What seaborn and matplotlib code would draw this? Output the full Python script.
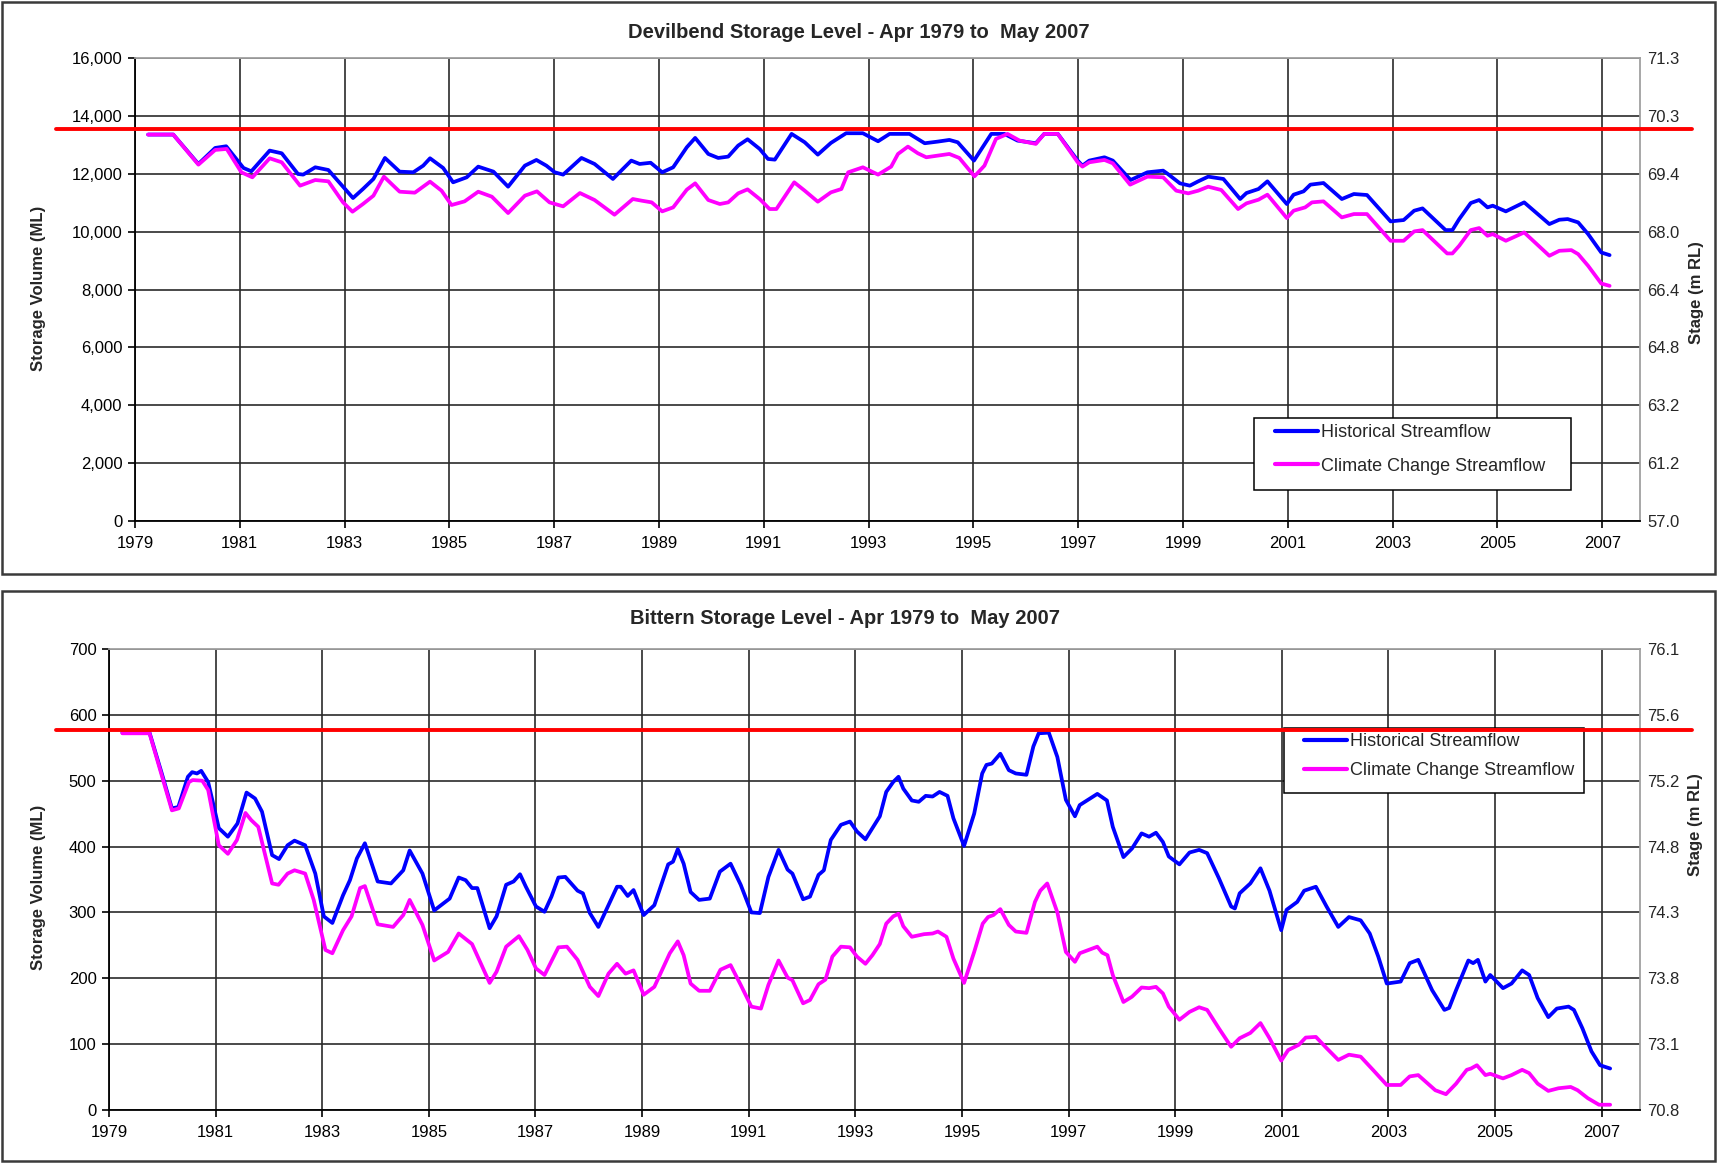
import numpy as np
import pandas as pd
import matplotlib.pyplot as plt
from matplotlib.patches import Rectangle
import seaborn as sns

# ---------------- data ----------------
# Devilbend - historical streamflow (decimal year, ML)
dev_hist_yr = [1979.25, 1979.73, 1980.21, 1980.53, 1980.74, 1981.07, 1981.22, 1981.57, 1981.80, 1982.11,
               1982.21, 1982.44, 1982.69, 1983.16, 1983.35, 1983.55, 1983.77, 1984.05, 1984.31, 1984.50,
               1984.63, 1984.88, 1985.07, 1985.33, 1985.55, 1985.84, 1986.12, 1986.44, 1986.66, 1986.85,
               1987.01, 1987.17, 1987.52, 1987.77, 1988.12, 1988.47, 1988.63, 1988.84, 1989.06, 1989.27,
               1989.53, 1989.69, 1989.94, 1990.13, 1990.32, 1990.51, 1990.69, 1990.92, 1991.08, 1991.21,
               1991.53, 1991.78, 1992.03, 1992.28, 1992.57, 1992.89, 1993.18, 1993.40, 1993.78, 1994.07,
               1994.32, 1994.54, 1994.70, 1995.01, 1995.34, 1995.59, 1995.84, 1996.19, 1996.35, 1996.61,
               1996.99, 1997.08, 1997.21, 1997.50, 1997.66, 1998.00, 1998.32, 1998.62, 1998.71, 1998.94,
               1999.13, 1999.29, 1999.48, 1999.77, 2000.09, 2000.21, 2000.44, 2000.61, 2000.98, 2001.11,
               2001.30, 2001.43, 2001.68, 2002.03, 2002.26, 2002.51, 2002.96, 2003.21, 2003.41, 2003.57,
               2004.01, 2004.14, 2004.27, 2004.49, 2004.65, 2004.81, 2004.91, 2005.16, 2005.51, 2005.99,
               2006.18, 2006.34, 2006.54, 2006.73, 2006.98, 2007.14]
dev_hist_ml = [13354, 13354, 12338, 12892, 12950, 12200, 12085, 12800, 12707, 11992,
               11970, 12223, 12130, 11161, 11473, 11820, 12546, 12073, 12050, 12280,
               12534, 12200, 11704, 11877, 12246, 12073, 11553, 12280, 12477, 12280,
               12050, 11970, 12546, 12338, 11820, 12454, 12338, 12380, 12050, 12223,
               12915, 13238, 12684, 12546, 12592, 12973, 13192, 12858, 12511, 12488,
               13377, 13088, 12661, 13065, 13400, 13400, 13123, 13377, 13377, 13054,
               13111, 13169, 13088, 12454, 13377, 13377, 13146, 13054, 13377, 13377,
               12454, 12280, 12454, 12569, 12454, 11784, 12050, 12107, 11992, 11669,
               11588, 11738, 11900, 11820, 11127, 11334, 11473, 11738, 10954, 11277,
               11392, 11623, 11680, 11127, 11300, 11265, 10354, 10400, 10723, 10803,
               10053, 10053, 10434, 10988, 11092, 10838, 10896, 10700, 11011, 10261,
               10411, 10434, 10319, 9915, 9280, 9188]

# Devilbend - climate change streamflow
dev_cc_yr = [1979.25, 1979.73, 1980.21, 1980.53, 1980.75, 1981.03, 1981.24, 1981.57, 1981.80, 1982.15,
             1982.44, 1982.69, 1982.97, 1983.15, 1983.35, 1983.55, 1983.75, 1984.05, 1984.34, 1984.63,
             1984.85, 1985.04, 1985.29, 1985.55, 1985.81, 1986.12, 1986.44, 1986.67, 1986.91, 1987.17,
             1987.49, 1987.77, 1988.15, 1988.50, 1988.67, 1988.86, 1989.06, 1989.27, 1989.53, 1989.69,
             1989.94, 1990.16, 1990.32, 1990.51, 1990.69, 1990.92, 1991.11, 1991.24, 1991.58, 1991.78,
             1992.03, 1992.28, 1992.48, 1992.61, 1992.89, 1993.18, 1993.43, 1993.56, 1993.75, 1993.94,
             1994.10, 1994.32, 1994.54, 1994.73, 1995.02, 1995.21, 1995.43, 1995.65, 1995.88, 1996.19,
             1996.35, 1996.61, 1996.99, 1997.08, 1997.21, 1997.50, 1997.66, 1997.99, 1998.32, 1998.62,
             1998.87, 1999.10, 1999.29, 1999.48, 1999.73, 2000.05, 2000.21, 2000.44, 2000.61, 2000.98,
             2001.11, 2001.33, 2001.46, 2001.68, 2002.03, 2002.26, 2002.51, 2002.96, 2003.21, 2003.41,
             2003.57, 2004.04, 2004.14, 2004.27, 2004.49, 2004.65, 2004.81, 2004.91, 2005.16, 2005.51,
             2005.99, 2006.18, 2006.41, 2006.54, 2006.73, 2006.98, 2007.14]
dev_cc_ml = [13354, 13354, 12315, 12823, 12858, 12050, 11877, 12534, 12396, 11588,
             11784, 11738, 11011, 10688, 10954, 11242, 11900, 11380, 11346, 11727,
             11415, 10919, 11046, 11380, 11207, 10642, 11242, 11392, 11011, 10873,
             11334, 11092, 10584, 11127, 11069, 11011, 10700, 10838, 11450, 11669,
             11092, 10954, 11011, 11323, 11461, 11127, 10781, 10781, 11704, 11415,
             11034, 11357, 11473, 12050, 12223, 11970, 12246, 12684, 12938, 12707,
             12569, 12627, 12684, 12546, 11911, 12280, 13204, 13377, 13146, 13031,
             13377, 13377, 12396, 12246, 12396, 12477, 12361, 11623, 11900, 11877,
             11415, 11323, 11415, 11553, 11438, 10781, 10977, 11104, 11277, 10469,
             10723, 10838, 11011, 11046, 10492, 10607, 10607, 9684, 9684, 10007,
             10053, 9246, 9246, 9511, 10053, 10123, 9857, 9915, 9684, 9972,
             9165, 9338, 9361, 9223, 8818, 8207, 8126]

# Bittern - historical streamflow
bit_hist_yr = [1979.25, 1979.76, 1979.99, 1980.18, 1980.30, 1980.48, 1980.56, 1980.65, 1980.73, 1980.86,
               1981.06, 1981.23, 1981.41, 1981.58, 1981.74, 1981.87, 1982.06, 1982.19, 1982.35, 1982.48,
               1982.68, 1982.87, 1983.03, 1983.19, 1983.39, 1983.52, 1983.65, 1983.80, 1984.04, 1984.29,
               1984.52, 1984.64, 1984.88, 1985.10, 1985.23, 1985.39, 1985.56, 1985.69, 1985.81, 1985.91,
               1986.14, 1986.27, 1986.45, 1986.59, 1986.71, 1986.82, 1987.01, 1987.17, 1987.30, 1987.43,
               1987.56, 1987.79, 1987.89, 1988.02, 1988.18, 1988.37, 1988.53, 1988.60, 1988.73, 1988.84,
               1989.03, 1989.23, 1989.36, 1989.49, 1989.58, 1989.67, 1989.78, 1989.91, 1990.07, 1990.27,
               1990.46, 1990.66, 1990.85, 1991.05, 1991.21, 1991.37, 1991.56, 1991.73, 1991.82, 1992.02,
               1992.15, 1992.31, 1992.41, 1992.54, 1992.73, 1992.90, 1993.03, 1993.19, 1993.32, 1993.46,
               1993.58, 1993.71, 1993.81, 1993.90, 1994.06, 1994.19, 1994.32, 1994.45, 1994.58, 1994.73,
               1994.84, 1995.04, 1995.23, 1995.38, 1995.46, 1995.56, 1995.72, 1995.88, 1996.01, 1996.21,
               1996.34, 1996.44, 1996.63, 1996.79, 1996.95, 1997.12, 1997.21, 1997.54, 1997.72, 1997.83,
               1998.03, 1998.19, 1998.37, 1998.51, 1998.64, 1998.77, 1998.88, 1999.08, 1999.27, 1999.45,
               1999.60, 1999.82, 2000.05, 2000.12, 2000.21, 2000.41, 2000.60, 2000.77, 2000.99, 2001.09,
               2001.29, 2001.42, 2001.64, 2001.84, 2002.06, 2002.26, 2002.48, 2002.65, 2002.81, 2002.97,
               2003.23, 2003.40, 2003.56, 2003.82, 2004.05, 2004.14, 2004.27, 2004.50, 2004.59, 2004.68,
               2004.82, 2004.91, 2005.15, 2005.31, 2005.51, 2005.64, 2005.80, 2006.00, 2006.16, 2006.38,
               2006.48, 2006.64, 2006.81, 2006.97, 2007.16]
bit_hist_ml = [573, 573, 511, 458, 460, 506, 513, 511, 515, 498,
               428, 415, 435, 482, 473, 453, 387, 381, 402, 409,
               402, 359, 294, 284, 326, 349, 382, 405, 347, 344,
               364, 394, 359, 303, 311, 321, 353, 349, 337, 337,
               276, 294, 342, 347, 358, 339, 309, 301, 324, 353,
               354, 333, 329, 299, 278, 311, 339, 339, 325, 334,
               296, 311, 342, 373, 377, 396, 374, 331, 319, 321,
               362, 374, 342, 300, 299, 354, 395, 365, 359, 320,
               324, 357, 364, 410, 433, 438, 423, 411, 428, 446,
               483, 498, 506, 488, 470, 468, 477, 476, 483, 477,
               443, 401, 450, 511, 524, 526, 541, 516, 511, 509,
               552, 572, 573, 536, 471, 446, 463, 480, 470, 430,
               384, 397, 420, 415, 421, 407, 385, 373, 391, 395,
               390, 352, 309, 306, 329, 344, 367, 333, 273, 304,
               316, 333, 339, 309, 278, 293, 288, 268, 233, 192,
               195, 223, 228, 182, 152, 155, 182, 227, 223, 228,
               195, 205, 185, 192, 212, 205, 170, 141, 154, 157,
               152, 124, 89, 68, 63]

# Bittern - climate change streamflow
bit_cc_yr = [1979.25, 1979.76, 1979.99, 1980.18, 1980.31, 1980.50, 1980.57, 1980.75, 1980.86, 1981.06,
             1981.23, 1981.40, 1981.56, 1981.67, 1981.80, 1982.06, 1982.18, 1982.35, 1982.48, 1982.68,
             1982.84, 1983.06, 1983.19, 1983.39, 1983.55, 1983.71, 1983.80, 1984.04, 1984.33, 1984.52,
             1984.64, 1984.88, 1985.10, 1985.36, 1985.56, 1985.81, 1986.14, 1986.27, 1986.45, 1986.69,
             1986.85, 1987.01, 1987.17, 1987.43, 1987.59, 1987.79, 1988.02, 1988.18, 1988.37, 1988.53,
             1988.69, 1988.84, 1989.03, 1989.23, 1989.39, 1989.52, 1989.67, 1989.78, 1989.91, 1990.07,
             1990.27, 1990.47, 1990.66, 1990.85, 1991.05, 1991.23, 1991.37, 1991.56, 1991.73, 1991.82,
             1992.02, 1992.15, 1992.31, 1992.44, 1992.57, 1992.73, 1992.90, 1993.03, 1993.19, 1993.32,
             1993.46, 1993.58, 1993.71, 1993.81, 1993.90, 1994.06, 1994.29, 1994.45, 1994.55, 1994.71,
             1994.84, 1995.04, 1995.23, 1995.39, 1995.49, 1995.59, 1995.72, 1995.88, 1996.01, 1996.21,
             1996.37, 1996.47, 1996.60, 1996.79, 1996.95, 1997.12, 1997.21, 1997.54, 1997.63, 1997.73,
             1997.83, 1998.03, 1998.19, 1998.37, 1998.51, 1998.64, 1998.77, 1998.88, 1999.08, 1999.27,
             1999.45, 1999.60, 1999.82, 2000.05, 2000.21, 2000.41, 2000.60, 2000.77, 2000.99, 2001.12,
             2001.32, 2001.45, 2001.64, 2001.84, 2002.06, 2002.26, 2002.48, 2002.71, 2002.97, 2003.23,
             2003.40, 2003.56, 2003.88, 2004.08, 2004.27, 2004.47, 2004.55, 2004.66, 2004.82, 2004.91,
             2005.15, 2005.31, 2005.51, 2005.64, 2005.80, 2006.00, 2006.19, 2006.42, 2006.55, 2006.74,
             2006.95, 2007.16]
bit_cc_ml = [572, 572, 508, 455, 458, 498, 501, 500, 486, 402,
             389, 410, 451, 440, 430, 344, 342, 359, 364, 359,
             319, 243, 238, 273, 294, 337, 340, 282, 278, 296,
             319, 281, 227, 240, 268, 252, 193, 210, 248, 264,
             243, 215, 205, 247, 248, 228, 187, 173, 207, 222,
             207, 212, 175, 187, 215, 238, 256, 235, 192, 181,
             181, 213, 220, 190, 157, 154, 190, 227, 201, 197,
             162, 167, 191, 198, 233, 248, 247, 233, 222, 235,
             252, 283, 294, 298, 279, 263, 267, 268, 271, 263,
             230, 193, 240, 283, 293, 296, 305, 281, 271, 269,
             316, 333, 344, 300, 240, 225, 238, 248, 239, 235,
             205, 164, 172, 186, 185, 187, 177, 157, 137, 149,
             156, 152, 124, 96, 109, 117, 132, 109, 75, 91,
             99, 110, 111, 94, 76, 84, 81, 61, 38, 38,
             51, 53, 30, 24, 40, 61, 63, 68, 53, 55,
             48, 53, 61, 56, 40, 29, 33, 35, 30, 18,
             8, 8]

# full supply levels (red lines)
dev_fsl = 13560
bit_fsl = 577

# axis ticks and right-hand stage labels
year_ticks = list(range(1979, 2008, 2))
dev_ticks = list(range(0, 16001, 2000))
dev_stage = ["57.0", "61.2", "63.2", "64.8", "66.4", "68.0", "69.4", "70.3", "71.3"]
bit_ticks = list(range(0, 701, 100))
bit_stage = ["70.8", "73.1", "73.8", "74.3", "74.8", "75.2", "75.6", "76.1"]

series_names = ["Historical Streamflow", "Climate Change Streamflow"]
series_colors = ["#0000ff", "#ff00ff"]

# ---------------- plotting ----------------
sns.set_style("white")
plt.rcParams["font.family"] = ["Liberation Sans", "DejaVu Sans"]

W, H = 1717, 1164
fig = plt.figure(figsize=(W / 100, H / 100), dpi=100)


def fx(px):
    return px / W


def fy(py):
    return 1 - py / H


def draw_panel(rect, box, yrs, vals, fsl, yticks, stage, title, title_xy,
               ylab_xy, rlab_xy, leg_box, leg_anchor, leg_spacing):
    # outer frame of the panel
    fig.patches.append(Rectangle((fx(box[0]), fy(box[3])), fx(box[2] - box[0]), (box[3] - box[1]) / H,
                                 transform=fig.transFigure, fill=False, edgecolor="#3a3a3a", lw=1.8))

    ax = fig.add_axes([fx(rect[0]), fy(rect[3]), fx(rect[2] - rect[0]), (rect[3] - rect[1]) / H])
    for (yr, v), name, col in zip(zip(yrs, vals), series_names, series_colors):
        df = pd.DataFrame({"year": yr, "ml": v})
        sns.lineplot(data=df, x="year", y="ml", ax=ax, color=col, linewidth=2.7,
                     estimator=None, label=name, zorder=3,
                     solid_joinstyle="round", solid_capstyle="round")

    ax.set_xlim(1979, 2007.72)
    ax.set_ylim(yticks[0], yticks[-1])
    ax.set_xticks(year_ticks)
    ax.set_yticks(yticks)
    ax.yaxis.set_major_formatter(plt.FuncFormatter(lambda v, p: f"{int(v):,}"))
    ax.grid(True, color="#2a2a2a", lw=1.2)
    ax.set_xlabel("")
    ax.set_ylabel("")
    ax.tick_params(axis="both", labelsize=12, colors="black", direction="out",
                   length=5, width=1.2, pad=4)
    ax.tick_params(axis="x", pad=6)
    ax.tick_params(left=True, bottom=True)
    for s in ["left", "bottom"]:
        ax.spines[s].set_color("black")
        ax.spines[s].set_linewidth(1.3)
    for s in ["top", "right"]:
        ax.spines[s].set_color("#a0a0a0")
        ax.spines[s].set_linewidth(1.3)

    # full supply level line, reaching past the plot area
    x0 = (56 - rect[0]) / (rect[2] - rect[0])
    x1 = (1692 - rect[0]) / (rect[2] - rect[0])
    ax.axhline(fsl, xmin=x0, xmax=x1, color="#ff0000", lw=2.8, clip_on=False, zorder=7)

    # right-hand stage axis
    ax2 = ax.twinx()
    ax2.set_ylim(ax.get_ylim())
    ax2.set_yticks(yticks)
    ax2.set_yticklabels(stage)
    ax2.tick_params(axis="y", length=0, labelsize=12, pad=5)
    for s in ax2.spines.values():
        s.set_visible(False)
    ax2.grid(False)

    # legend: white box plus entries
    ax.add_patch(Rectangle((fx(leg_box[0]), fy(leg_box[3])), fx(leg_box[2] - leg_box[0]),
                           (leg_box[3] - leg_box[1]) / H, transform=fig.transFigure,
                           facecolor="white", edgecolor="black", lw=1.1, zorder=5, clip_on=False))
    h, l = ax.get_legend_handles_labels()
    leg = ax.legend(h, l, loc="upper left", bbox_to_anchor=(fx(leg_anchor[0]), fy(leg_anchor[1])),
                    bbox_transform=fig.transFigure, frameon=False, borderpad=0, borderaxespad=0,
                    handlelength=2.4, handletextpad=0.15, labelspacing=leg_spacing, fontsize=13)
    leg.set_zorder(6)
    for ln in leg.get_lines():
        ln.set_linewidth(3.0)

    fig.text(fx(title_xy[0]), fy(title_xy[1]), title, ha="center", va="center",
             fontsize=14.5, fontweight="bold")
    fig.text(fx(ylab_xy[0]), fy(ylab_xy[1]), "Storage Volume (ML)", rotation=90,
             ha="center", va="center", fontsize=12, fontweight="bold")
    fig.text(fx(rlab_xy[0]), fy(rlab_xy[1]), "Stage (m RL)", rotation=90,
             ha="center", va="center", fontsize=12, fontweight="bold")
    return ax


draw_panel(rect=(135, 58, 1640, 521), box=(2, 2, 1715, 574),
           yrs=(dev_hist_yr, dev_cc_yr), vals=(dev_hist_ml, dev_cc_ml), fsl=dev_fsl,
           yticks=dev_ticks, stage=dev_stage,
           title="Devilbend Storage Level - Apr 1979 to  May 2007", title_xy=(859, 33),
           ylab_xy=(39, 288), rlab_xy=(1696, 293),
           leg_box=(1254, 418, 1571, 490), leg_anchor=(1275, 424), leg_spacing=0.92)

draw_panel(rect=(109, 649, 1640, 1110), box=(2, 591, 1715, 1161),
           yrs=(bit_hist_yr, bit_cc_yr), vals=(bit_hist_ml, bit_cc_ml), fsl=bit_fsl,
           yticks=bit_ticks, stage=bit_stage,
           title="Bittern Storage Level - Apr 1979 to  May 2007", title_xy=(845, 619),
           ylab_xy=(38, 887), rlab_xy=(1695, 825),
           leg_box=(1284, 728, 1584, 793), leg_anchor=(1304, 733), leg_spacing=0.66)

fig.savefig("out.png", dpi=100, facecolor="white")
